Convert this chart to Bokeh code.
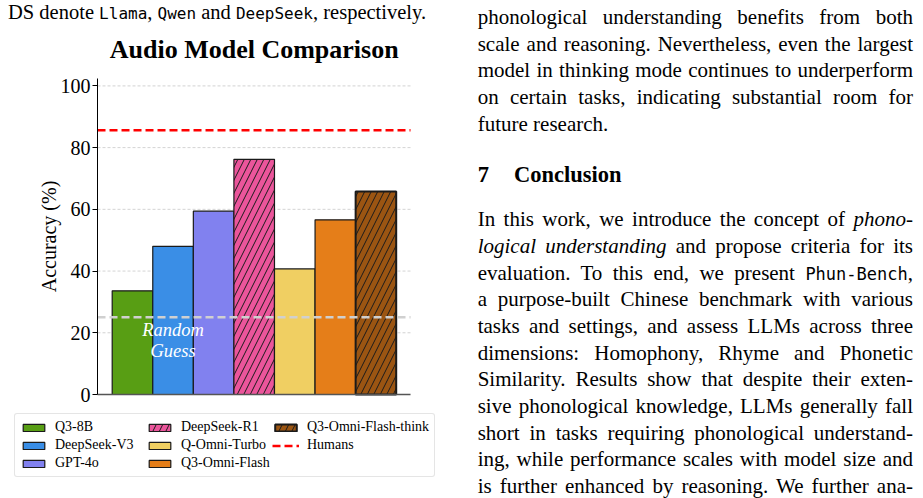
from bokeh.plotting import figure
from bokeh.models import ColumnDataSource, Range1d, Legend, LegendItem, Div
from bokeh.layouts import row, column
from bokeh.embed import file_html
from bokeh.resources import INLINE
from bokeh.core.properties import value

# ---------------- data ----------------
models = ["Q3-8B", "DeepSeek-V3", "GPT-4o", "DeepSeek-R1",
          "Q-Omni-Turbo", "Q3-Omni-Flash", "Q3-Omni-Flash-think"]
accuracy = [33.6, 48.0, 59.4, 76.2, 40.7, 56.6, 65.8]
colors = ["#589e14", "#3a8ee6", "#8181ef", "#eb559b",
          "#f0cf62", "#e57e19", "#9b5512"]
thinking = [False, False, False, True, False, False, True]
humans_acc = 85.6
random_acc = 25.0
y_ticks = [0, 20, 40, 60, 80, 100]

title_text = "Audio Model Comparison"
y_label = "Accuracy (%)"

# plotting-area geometry (data units)
XA, XEND = -0.862, 6.853      # left spine position / right end of the axes box
YTOP = 102.4                  # top of the y axis
XR = (-3.253, 7.715)          # full canvas, so the legend below is not clipped
YR = (-33.70, 118.6)
TITLE_Y = 111.7

SERIF = "Liberation Serif"
MONO = "DejaVu Sans Mono"
EDGE = "#1a1a1a"

# ---------------- chart ----------------
p = figure(width=445, height=470, x_range=Range1d(*XR), y_range=Range1d(*YR),
           output_backend="svg", toolbar_location=None,
           min_border_left=0, min_border_right=0, min_border_top=0,
           min_border_bottom=0)
p.outline_line_color = None
p.background_fill_color = "white"
p.border_fill_color = "white"
p.grid.visible = False
p.xaxis.visible = False

p.yaxis.fixed_location = XA
p.yaxis.bounds = (0, YTOP)
p.yaxis.ticker = y_ticks
p.yaxis.major_label_text_font = SERIF
p.yaxis.major_label_text_font_size = "20px"
p.yaxis.major_label_text_color = "black"
p.yaxis.major_tick_out = 5
p.yaxis.major_tick_in = 0
p.yaxis.minor_tick_line_color = None
p.yaxis.axis_line_color = "black"
p.yaxis.axis_line_width = 1
p.yaxis.major_label_standoff = 2
p.yaxis.axis_label = y_label
p.yaxis.axis_label_text_font = SERIF
p.yaxis.axis_label_text_font_size = "20px"
p.yaxis.axis_label_text_font_style = "normal"
p.yaxis.axis_label_text_color = "black"
p.yaxis.axis_label_standoff = -2

# horizontal grid lines (inside the axes box only)
grid_y = [t for t in y_ticks if t > 0]
p.segment(x0=[XA] * len(grid_y), x1=[XEND] * len(grid_y), y0=grid_y, y1=grid_y,
          line_color="#c8c8c8", line_dash="3 2", line_width=0.8)

renderers = []
for i, (m, a, c, t) in enumerate(zip(models, accuracy, colors, thinking)):
    src = ColumnDataSource(dict(x=[i], top=[a]))
    kw = dict(fill_color=c, line_color=EDGE,
              line_width=2.0 if m.endswith("think") else 1.2)
    if t:
        kw.update(hatch_pattern="/", hatch_color=EDGE, hatch_scale=13, hatch_weight=1)
    renderers.append(p.vbar(x="x", top="top", bottom=0, width=1.0, source=src, **kw))

# bottom spine
p.segment(x0=[XA], x1=[XEND], y0=[0], y1=[0], line_color="#555555", line_width=1.5)

# reference lines
p.segment(x0=[XA], x1=[XEND], y0=[random_acc], y1=[random_acc],
          line_color="#d0d0d0", line_dash="8 4", line_width=2.5)
hsrc = ColumnDataSource(dict(x=[XA, XEND], y=[humans_acc, humans_acc]))
renderers.append(p.line(x="x", y="y", source=hsrc, line_color="red",
                        line_dash="8 4", line_width=2.5))
labels = models + ["Humans"]

p.text(x=[1], y=[random_acc * 0.7], text=["Random\nGuess"],
       text_font=value(SERIF), text_font_style="italic", text_font_size="18.5px",
       text_color="white", text_align="center", text_baseline="middle",
       text_line_height=1.05)

# title, centred over the bars
p.text(x=[(len(models) - 1) / 2], y=[TITLE_Y], text=[title_text],
       text_font=value(SERIF), text_font_style="bold", text_font_size="26px",
       text_color="black", text_align="center", text_baseline="alphabetic")

items = [LegendItem(label=l, renderers=[r]) for l, r in zip(labels, renderers)]
legend = Legend(items=items, location=(14, 21), orientation="vertical", nrows=3,
                label_text_font=SERIF, label_text_font_size="14px",
                label_text_color="black", glyph_width=27, glyph_height=9,
                label_standoff=8, label_width=89, label_height=12, spacing=2,
                padding=5, margin=0,
                border_line_color="#cccccc", border_line_width=1, border_radius=3,
                background_fill_color="white", background_fill_alpha=1.0)
p.add_layout(legend, "center")

# ---------------- surrounding page text ----------------
FS = 21
ASC = 0.8375


def line_html(inner, baseline, left, width=None, justify=False, fs=FS, bold=False):
    top = baseline - ASC * fs
    st = (f"position:absolute;left:{left}px;top:{top:.1f}px;"
          f"font-family:'{SERIF}';font-size:{fs}px;line-height:{fs}px;color:#000;"
          "white-space:nowrap;")
    if width is not None:
        st += f"width:{width}px;"
    if justify:
        st += "text-align:justify;text-align-last:justify;"
    if bold:
        st += "font-weight:bold;"
    return f'<div style="{st}">{inner}</div>'


def mono(t, fs=17):
    return f"<span style=\"font-family:'{MONO}';font-size:{fs}px;\">{t}</span>"


ds_html = ('<div style="position:relative;width:445px;height:28px;overflow:hidden;">'
           + line_html(f"DS denote {mono('Llama', 16)}, {mono('Qwen', 16)} and "
                       f"{mono('DeepSeek', 16)}, respectively.", 19, 8, fs=20.5)
           + "</div>")
ds_div = Div(text=ds_html, width=445, height=28, margin=(0, 0, 0, 0))

L = 32.7
W = 435.3
lines = [
    ("phonological understanding benefits from both", 24.5, True),
    ("scale and reasoning. Nevertheless, even the largest", 51.2, True),
    ("model in thinking mode continues to underperform", 77.9, True),
    ("on certain tasks, indicating substantial room for", 104.6, True),
    ("future research.", 131.3, False),
    ("In this work, we introduce the concept of <i>phono-</i>", 226.7, True),
    ("<i>logical understanding</i> and propose criteria for its", 253.4, True),
    (f"evaluation. To this end, we present {mono('Phun-Bench')},", 280.1, True),
    ("a purpose-built Chinese benchmark with various", 306.8, True),
    ("tasks and settings, and assess LLMs across three", 333.5, True),
    ("dimensions: Homophony, Rhyme and Phonetic", 360.2, True),
    ("Similarity. Results show that despite their exten-", 386.9, True),
    ("sive phonological knowledge, LLMs generally fall", 413.6, True),
    ("short in tasks requiring phonological understand-", 440.3, True),
    ("ing, while performance scales with model size and", 467.0, True),
    ("is further enhanced by reasoning. We further ana-", 493.7, True),
]
body = "".join(line_html(t, b, L, W if j else None, j) for t, b, j in lines)
body += line_html("7", 183, L, fs=22.5, bold=True)
body += line_html("Conclusion", 183, 69, fs=22.5, bold=True)
right_html = ('<div style="position:relative;width:478px;height:498px;overflow:hidden;">'
              + body + "</div>")
right_div = Div(text=right_html, width=478, height=498, margin=(0, 0, 0, 0))

page = row(column(ds_div, p, spacing=0), right_div, spacing=0)

open("out.html", "w").write(file_html(page, INLINE))
